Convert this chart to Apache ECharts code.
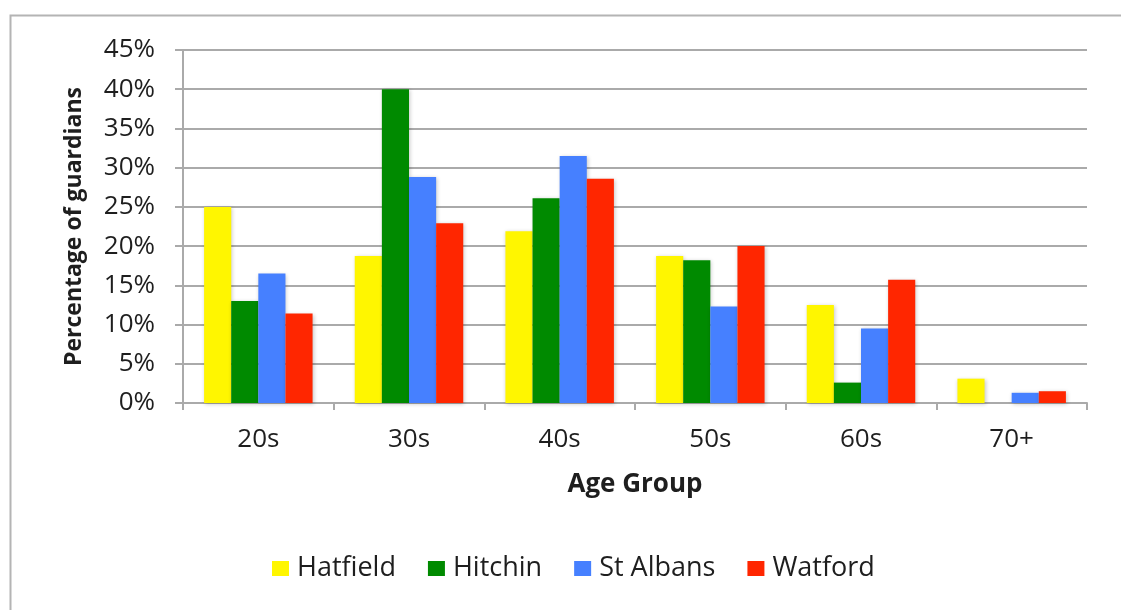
<!DOCTYPE html>
<html>
<head>
<meta charset="utf-8">
<title>Percentage of guardians by age group</title>
<script src="https://cdn.jsdelivr.net/npm/echarts@6/dist/echarts.min.js"></script>
<style>
  html, body { margin: 0; padding: 0; background: #ffffff; }
  #chart { width: 1121px; height: 610px; }
</style>
</head>
<body>
<div id="chart"></div>
<script>
// Age groups along the x axis
const ageGroups = ['20s', '30s', '40s', '50s', '60s', '70+'];

// Share of guardians (%) in each age group, per town
const hatfield = [25, 18.75, 21.9, 18.75, 12.5, 3.1];
const hitchin = [13, 40, 26.1, 18.2, 2.6, 0];
const stAlbans = [16.5, 28.8, 31.5, 12.3, 9.5, 1.3];
const watford = [11.4, 22.9, 28.6, 20, 15.7, 1.5];

// Value axis range
const yMin = 0;
const yMax = 45;
const yStep = 5;

const towns = [
  { name: 'Hatfield', data: hatfield, color: '#fff600' },
  { name: 'Hitchin', data: hitchin, color: '#008a00' },
  { name: 'St Albans', data: stAlbans, color: '#4680ff' },
  { name: 'Watford', data: watford, color: '#ff2600' }
];

const font = '"Open Sans", "Liberation Sans", sans-serif';
const gridColor = '#aaaaaa';
const textColor = '#1e1e1e';

const chart = echarts.init(document.getElementById('chart'), null, { renderer: 'canvas' });

chart.setOption({
  backgroundColor: '#ffffff',
  animation: false,
  textStyle: { fontFamily: font, color: textColor },
  graphic: [{
    type: 'rect',
    left: 8,
    top: 13,
    shape: { width: 1200, height: 700 },
    style: { fill: 'none', stroke: '#b4b4b4', lineWidth: 2 },
    silent: true,
    z: -1
  }],
  grid: { left: 183, right: 34, top: 50, bottom: 207, containLabel: false },
  legend: {
    data: towns.map(t => t.name),
    left: 272,
    top: 555,
    padding: 0,
    itemWidth: 17,
    itemHeight: 15,
    itemGap: 32,
    icon: 'rect',
    textStyle: { fontFamily: font, fontSize: 27, color: textColor, padding: [0, 0, 0, 3] }
  },
  xAxis: {
    type: 'category',
    data: ageGroups,
    name: 'Age Group',
    nameLocation: 'middle',
    nameGap: 69,
    nameTextStyle: { fontFamily: font, fontSize: 26, fontWeight: 'bold', color: textColor },
    axisLine: { lineStyle: { color: gridColor, width: 2 } },
    axisTick: { show: true, length: 7, lineStyle: { color: gridColor, width: 2 } },
    axisLabel: { fontFamily: font, fontSize: 26, color: textColor, margin: 24 },
    splitLine: { show: false }
  },
  yAxis: {
    type: 'value',
    min: yMin,
    max: yMax,
    interval: yStep,
    name: 'Percentage of guardians',
    nameLocation: 'middle',
    nameGap: 97,
    nameTextStyle: { fontFamily: font, fontSize: 23, fontWeight: 'bold', color: textColor },
    axisLine: { show: true, lineStyle: { color: gridColor, width: 2 } },
    axisTick: { show: true, length: 8, lineStyle: { color: gridColor, width: 2 } },
    axisLabel: { fontFamily: font, fontSize: 26, color: textColor, margin: 28, formatter: '{value}%' },
    splitLine: { show: true, lineStyle: { color: gridColor, width: 2 } }
  },
  series: towns.map(t => ({
    type: 'bar',
    name: t.name,
    data: t.data,
    barGap: '0%',
    barCategoryGap: '28%',
    itemStyle: {
      color: t.color,
      shadowBlur: 4,
      shadowColor: 'rgba(0,0,0,0.22)',
      shadowOffsetX: 1,
      shadowOffsetY: 1
    }
  }))
});
</script>
</body>
</html>
